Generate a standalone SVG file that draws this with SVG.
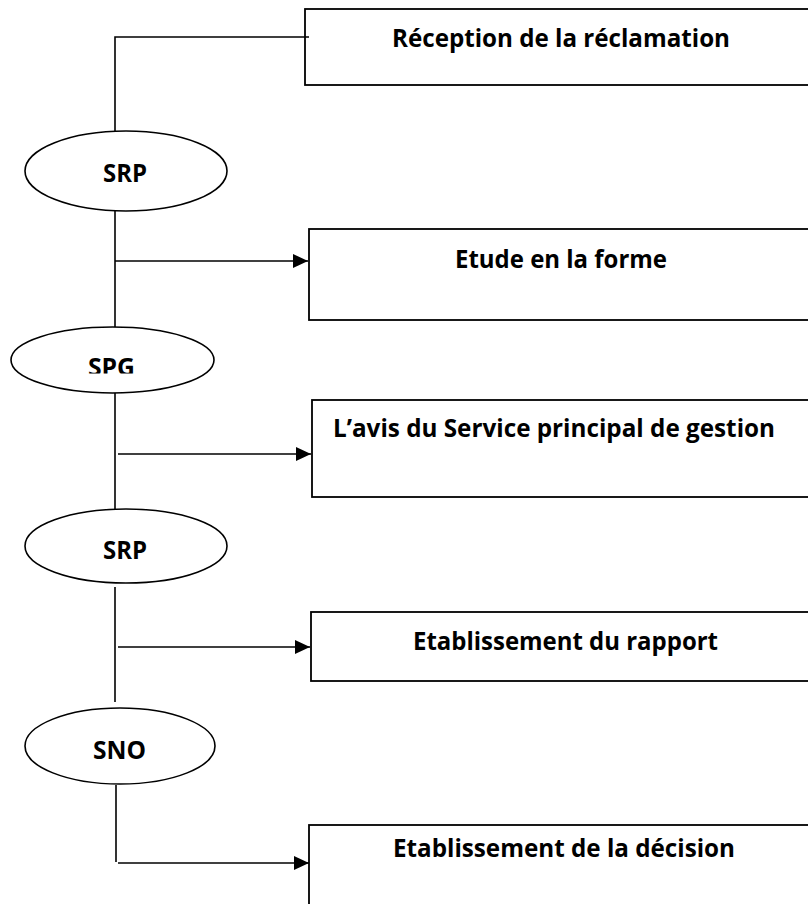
<svg xmlns="http://www.w3.org/2000/svg" width="808" height="904" viewBox="0 0 808 904">
<style>
.b{fill:none;stroke:#000;stroke-width:1.8}
.e{fill:#fff;stroke:#000;stroke-width:1.6}
.c{fill:none;stroke:#000;stroke-width:1.6}
.t{font-family:"Open Sans","Noto Sans","Liberation Sans",sans-serif;font-weight:bold;font-size:25px;fill:#000}
</style>
<defs>
<marker id="ar" markerWidth="15" markerHeight="14" refX="15" refY="7" orient="auto" markerUnits="userSpaceOnUse">
<path d="M0,0 L15,7 L0,14 Z" fill="#000"/>
</marker>
<clipPath id="spgclip"><rect x="0" y="340" width="250" height="33.5"/></clipPath>
</defs>
<rect width="808" height="904" fill="#fff"/>
<g id="connectors">
<path class="c" d="M115,133 V37 H309"/>
<path class="c" d="M115,211 V327"/>
<path class="c" d="M115,261 H308" marker-end="url(#ar)"/>
<path class="c" d="M115,393 V509"/>
<path class="c" d="M118,454 H311" marker-end="url(#ar)"/>
<path class="c" d="M115,587 V702"/>
<path class="c" d="M118,647 H310" marker-end="url(#ar)"/>
<path class="c" d="M116,785 V862"/>
<path class="c" d="M118,863 H309" marker-end="url(#ar)"/>
</g>
<g id="box1">
<rect class="b" x="305" y="9" width="520" height="76"/>
<text class="t" x="392" y="47" textLength="338" lengthAdjust="spacingAndGlyphs">Réception de la réclamation</text>
</g>
<g id="srp1">
<ellipse class="e" cx="126" cy="171" rx="101" ry="40"/>
<text class="t" x="103" y="182" textLength="44" lengthAdjust="spacingAndGlyphs">SRP</text>
</g>
<g id="box2">
<rect class="b" x="309" y="229" width="520" height="91"/>
<text class="t" x="455" y="268" textLength="212" lengthAdjust="spacingAndGlyphs">Etude en la forme</text>
</g>
<g id="spg">
<ellipse class="e" cx="112.5" cy="360" rx="101.5" ry="33"/>
<text class="t" x="88" y="376" textLength="47" lengthAdjust="spacingAndGlyphs" clip-path="url(#spgclip)">SPG</text>
</g>
<g id="box3">
<rect class="b" x="312" y="400" width="520" height="97"/>
<text class="t" x="333" y="437" textLength="442" lengthAdjust="spacingAndGlyphs">L’avis du Service principal de gestion</text>
</g>
<g id="srp2">
<ellipse class="e" cx="126" cy="546" rx="101" ry="37"/>
<text class="t" x="103" y="559" textLength="44" lengthAdjust="spacingAndGlyphs">SRP</text>
</g>
<g id="box4">
<rect class="b" x="311" y="612" width="520" height="69"/>
<text class="t" x="413" y="650" textLength="305" lengthAdjust="spacingAndGlyphs">Etablissement du rapport</text>
</g>
<g id="sno">
<ellipse class="e" cx="120" cy="746" rx="95" ry="38"/>
<text class="t" x="93" y="759" textLength="53" lengthAdjust="spacingAndGlyphs">SNO</text>
</g>
<g id="box5">
<rect class="b" x="309" y="825" width="520" height="100"/>
<text class="t" x="393" y="857" textLength="342" lengthAdjust="spacingAndGlyphs">Etablissement de la décision</text>
</g>
</svg>
